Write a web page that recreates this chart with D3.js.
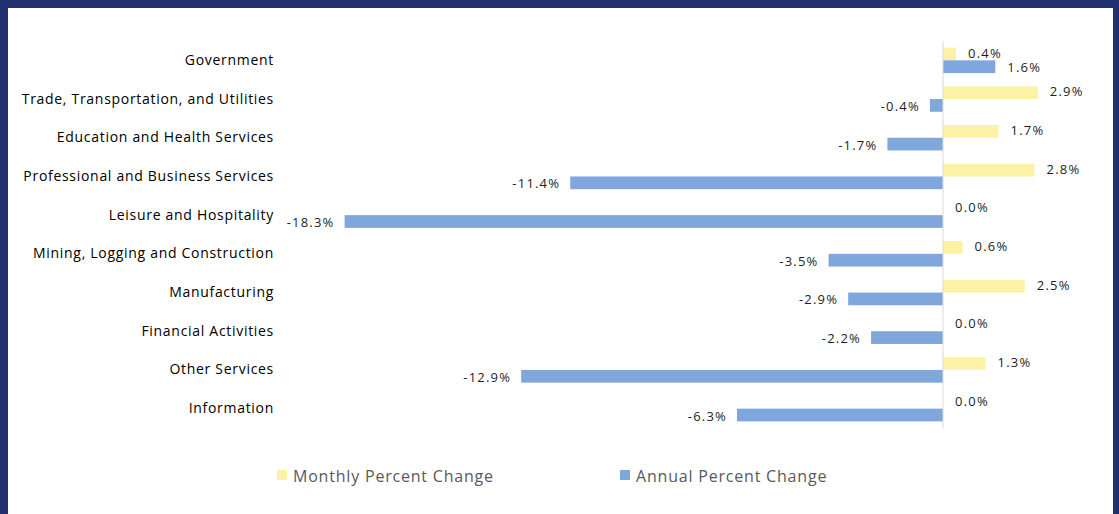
<!DOCTYPE html>
<html>
<head>
<meta charset="utf-8">
<script src="https://cdn.jsdelivr.net/npm/d3@7"></script>
<style>
  html, body { margin: 0; padding: 0; background: #21306f; }
  svg { display: block; }
</style>
</head>
<body>
<script>
// Data
var categories = ["Government", "Trade, Transportation, and Utilities", "Education and Health Services",
  "Professional and Business Services", "Leisure and Hospitality", "Mining, Logging and Construction",
  "Manufacturing", "Financial Activities", "Other Services", "Information"];
var monthly = [0.4, 2.9, 1.7, 2.8, 0.0, 0.6, 2.5, 0.0, 1.3, 0.0];
var annual = [1.6, -0.4, -1.7, -11.4, -18.3, -3.5, -2.9, -2.2, -12.9, -6.3];
var seriesNames = ["Monthly Percent Change", "Annual Percent Change"];
var seriesColors = ["#fbf2a6", "#80a7dc"];

var width = 1119, height = 514;

var svg = d3.select("body").append("svg").attr("width", width).attr("height", height);

// white panel inside the navy frame
svg.append("rect").attr("x", 8).attr("y", 8).attr("width", 1105).attr("height", 506).attr("fill", "#ffffff");

// Scales
var yScale = d3.scaleBand().domain(categories).range([41, 428]);
var inner = d3.scaleBand().domain([0, 1]).range([0, yScale.bandwidth()]).paddingOuter(0.52).paddingInner(0);
var xScale = d3.scaleLinear().domain([-20, 5]).range([289, 1106.5]);

var rows = categories.map(function(c, i) {
  return {cat: c, vals: [monthly[i], annual[i]]};
});

// bars + value labels
var g = svg.append("g");
rows.forEach(function(r) {
  r.vals.forEach(function(v, s) {
    var y0 = yScale(r.cat) + inner(s);
    g.append("rect")
      .attr("x", xScale(Math.min(0, v)))
      .attr("y", y0)
      .attr("width", Math.abs(xScale(v) - xScale(0)))
      .attr("height", inner.bandwidth())
      .attr("fill", seriesColors[s]);
    var lx = v < 0 ? xScale(v) - 10 : xScale(v) + 12;
    g.append("text")
      .attr("x", lx)
      .attr("y", y0 + inner.bandwidth() / 2 + (s === 0 ? -1 : 1))
      .attr("dy", "0.35em")
      .attr("text-anchor", v < 0 ? "end" : "start")
      .attr("font-family", "Open Sans, sans-serif")
      .attr("font-size", 13)
      .attr("letter-spacing", "1.2px")
      .attr("fill", "#1e1e1e")
      .text(v.toFixed(1) + "%");
  });
});

// zero axis
svg.append("line")
  .attr("x1", xScale(0)).attr("x2", xScale(0))
  .attr("y1", 41).attr("y2", 428)
  .attr("stroke", "#d9d9d9").attr("stroke-width", 1);

// category axis (labels only)
var yAxis = d3.axisLeft(yScale).tickSize(0).tickPadding(0);
var ag = svg.append("g").attr("transform", "translate(274,0)").call(yAxis);
ag.select(".domain").remove();
ag.selectAll("text")
  .attr("font-family", "Open Sans, sans-serif")
  .attr("font-size", 14)
  .attr("letter-spacing", "0.7px")
  .attr("fill", "#000");

// legend
var legendX = [277, 620];
seriesNames.forEach(function(n, i) {
  svg.append("rect").attr("x", legendX[i]).attr("y", 470).attr("width", 10).attr("height", 10)
    .attr("fill", seriesColors[i]);
  svg.append("text").attr("x", legendX[i] + 16).attr("y", 476).attr("dy", "0.35em")
    .attr("font-family", "Open Sans, sans-serif").attr("font-size", 16)
    .attr("letter-spacing", "0.8px")
    .attr("fill", "#595959").text(n);
});
</script>
</body>
</html>
